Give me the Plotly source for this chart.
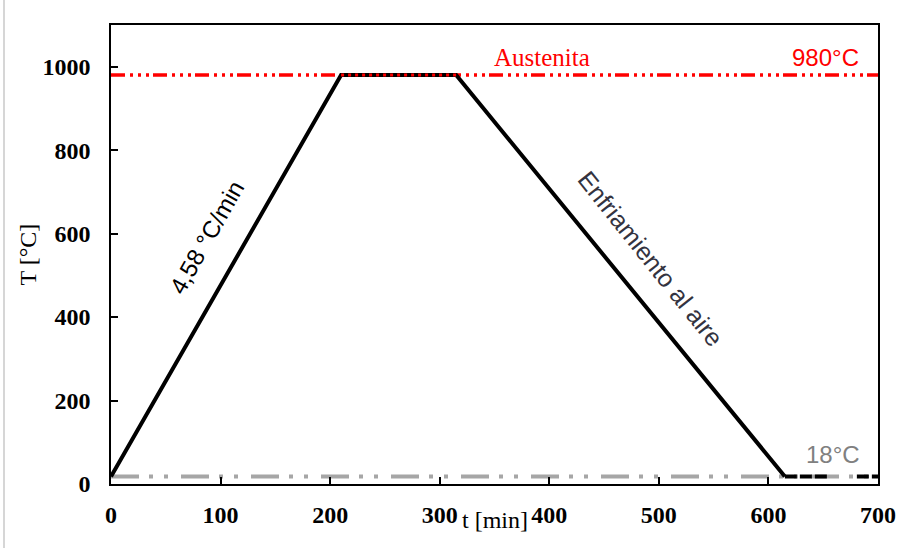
import plotly.graph_objects as go

# Data
t_profile = [0, 210, 315, 615, 700]
T_profile = [18, 980, 980, 18, 18]
T_aust = 980
T_amb = 18
t_range = [0, 700]
x_ticks = [0, 100, 200, 300, 400, 500, 600, 700]
y_ticks = [0, 200, 400, 600, 800, 1000]

fig = go.Figure()

# ambient line (gray)
fig.add_trace(go.Scatter(x=t_range, y=[T_amb, T_amb], mode="lines",
                         line=dict(color="#A6A6A6", width=4, dash="28px,10px,4px,11px,4px,13px"),
                         hoverinfo="skip", showlegend=False))
# austenite line (red)
fig.add_trace(go.Scatter(x=t_range, y=[T_aust, T_aust], mode="lines",
                         line=dict(color="#FF0000", width=3.5, dash="14px,5px,3px,5px,3px,5px,3px,4px"),
                         hoverinfo="skip", showlegend=False))
# profile (solid part)
fig.add_trace(go.Scatter(x=t_profile[:4], y=T_profile[:4], mode="lines",
                         line=dict(color="#000000", width=4),
                         hoverinfo="skip", showlegend=False))
# final segment dashed black
fig.add_trace(go.Scatter(x=t_profile[3:], y=T_profile[3:], mode="lines",
                         line=dict(color="#000000", width=4, dash="12px,3px,12px,3px,12px,30px"),
                         hoverinfo="skip", showlegend=False))
# red dots over the hold segment
fig.add_trace(go.Scatter(x=t_profile[1:3], y=T_profile[1:3], mode="lines",
                         line=dict(color="#FF0000", width=3, dash="3px,4px"),
                         hoverinfo="skip", showlegend=False))

serif = "Liberation Serif, Times New Roman, serif"
sans = "Liberation Sans, Arial, sans-serif"

annotations = [
    dict(x=393, y=1022, text="Austenita", font=dict(family=serif, size=25, color="#FF0000")),
    dict(x=652.5, y=1021, text="980°C", font=dict(family=sans, size=24, color="#FF0000")),
    dict(x=659, y=70, text="18°C", font=dict(family=sans, size=24, color="#808080")),
    dict(x=88, y=592, text="4,58 °C/min", textangle=-60.5, font=dict(family=sans, size=24, color="#000000")),
    dict(x=492, y=541, text="Enfriamiento al aire", textangle=51.4, font=dict(family=sans, size=25, color="#333340")),
]
for a in annotations:
    a.update(xref="x", yref="y", showarrow=False, xanchor="center", yanchor="middle")
annotations += [
    dict(x=0.5, y=-0.078, xref="paper", yref="paper", text="t [min]", showarrow=False,
         xanchor="center", yanchor="middle", font=dict(family=serif, size=24, color="#000000")),
    dict(x=-0.1095, y=0.5, xref="paper", yref="paper", text="T [°C]", showarrow=False, textangle=-90,
         xanchor="center", yanchor="middle", font=dict(family=serif, size=24, color="#000000")),
]

fig.update_layout(
    width=900, height=548,
    margin=dict(l=111, r=22, t=25, b=64, autoexpand=False),
    paper_bgcolor="white", plot_bgcolor="white",
    annotations=annotations,
    shapes=[dict(type="line", xref="paper", yref="paper", x0=-0.1395, x1=-0.1395, y0=-0.2, y1=1.06,
                 line=dict(color="#C8C8C8", width=1.5))],
)
fig.update_xaxes(range=[0, 700], tickvals=x_ticks, ticks="inside", ticklen=7, tickcolor="black",
                 tickwidth=1.5, showline=True, linecolor="black", linewidth=1.5, mirror=True,
                 showgrid=False, zeroline=False, ticklabelstandoff=8, automargin=False,
                 tickfont=dict(family=serif, size=24, color="black", weight="bold"))
fig.update_yaxes(range=[0, 1100], tickvals=y_ticks, ticks="inside", ticklen=7, tickcolor="black",
                 tickwidth=1.5, showline=True, linecolor="black", linewidth=1.5, mirror=True,
                 showgrid=False, zeroline=False, ticklabelstandoff=14, automargin=False,
                 tickfont=dict(family=serif, size=24, color="black", weight="bold"))

fig.write_html("out.html")
